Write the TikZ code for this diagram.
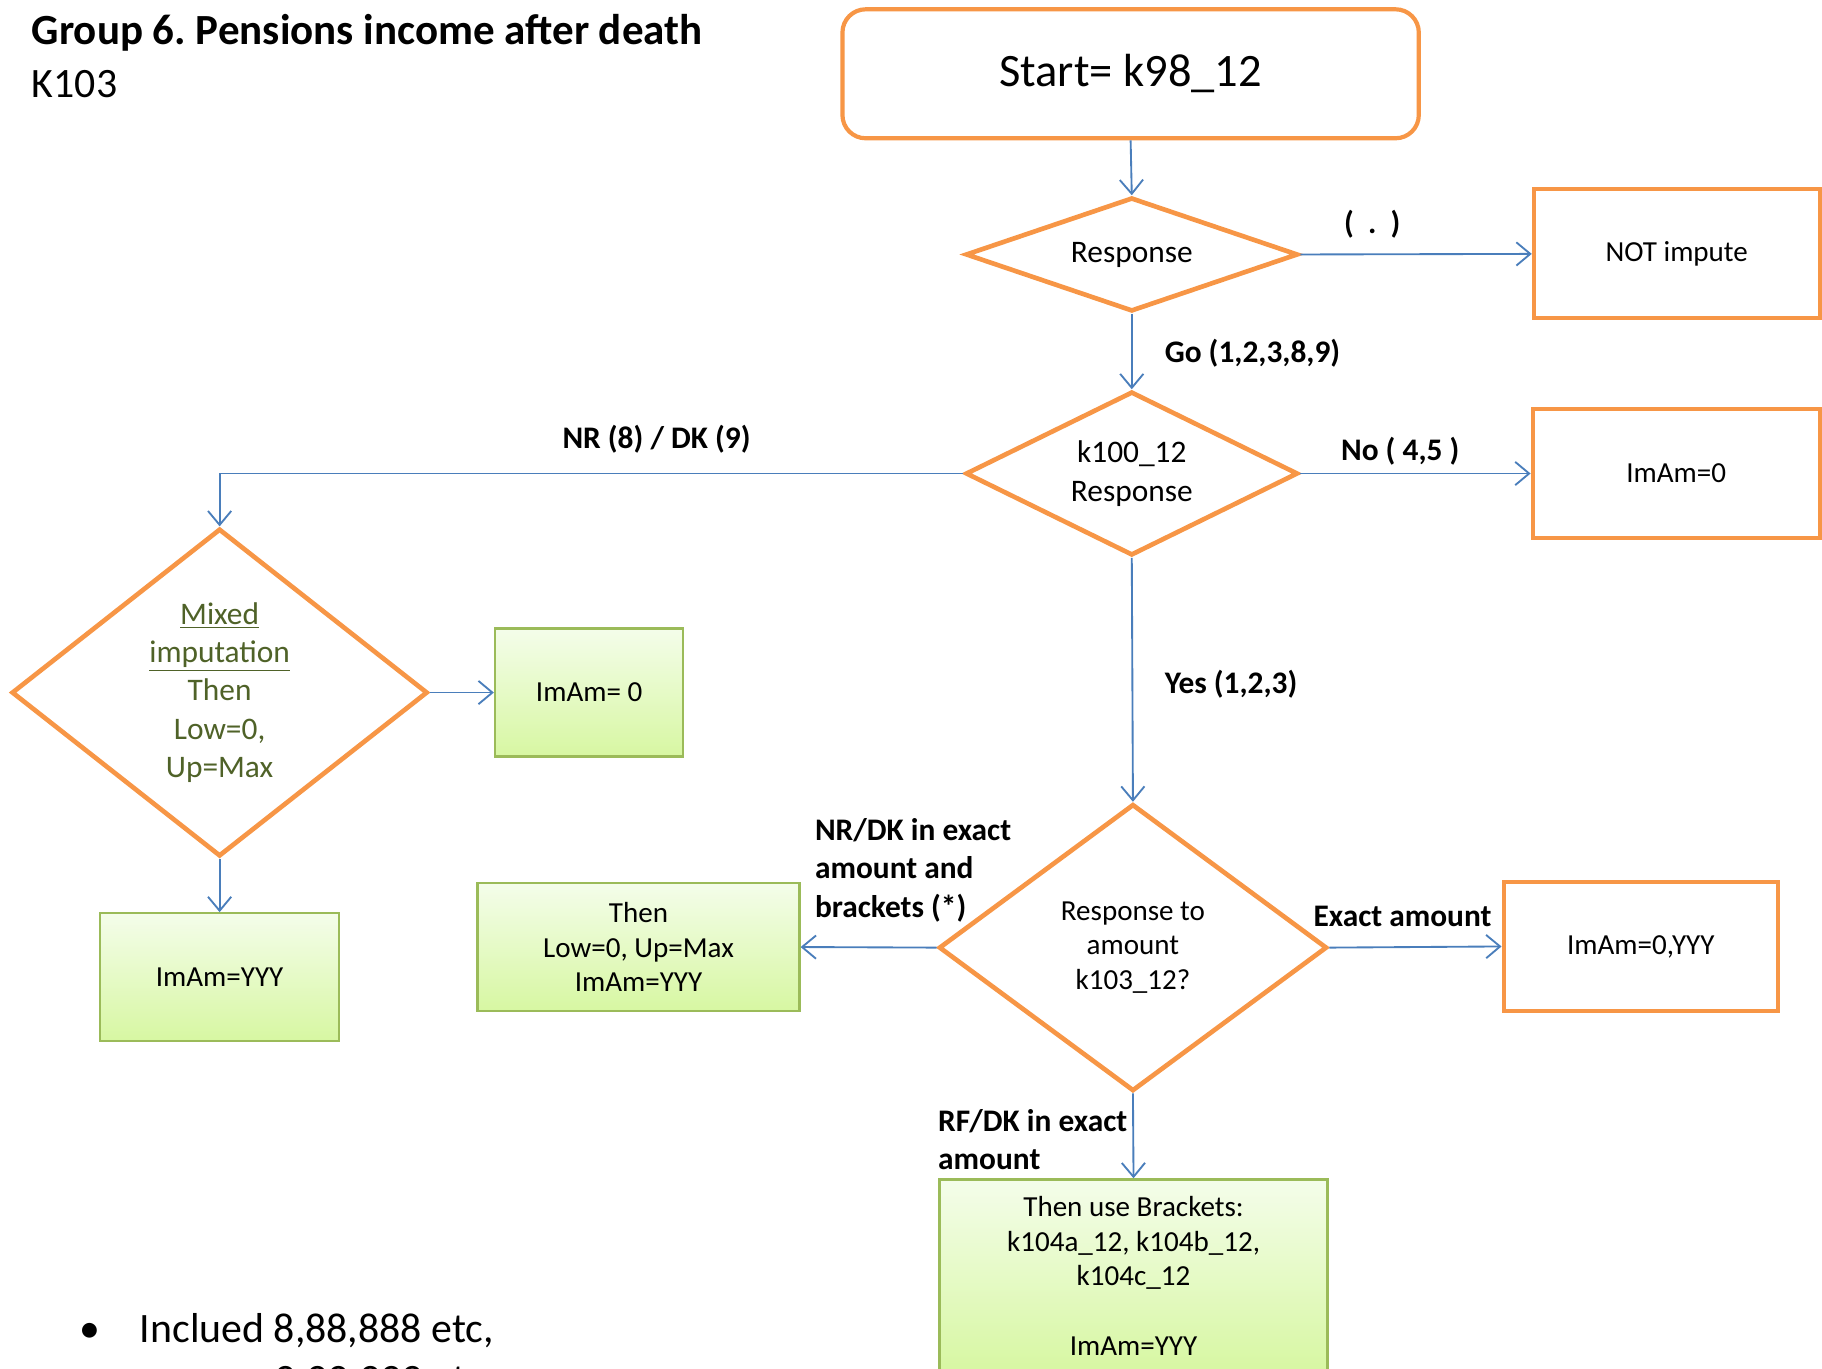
\documentclass[tikz,border=0pt]{standalone}
\usepackage{fontspec}
\setmainfont{Carlito}
\usetikzlibrary{shapes.geometric, arrows.meta, positioning}
\definecolor{pptorange}{HTML}{F79646}
\definecolor{pptblue}{HTML}{4A7EBB}
\definecolor{pptgreen}{HTML}{9BBB59}
\definecolor{olivetext}{HTML}{4F6228}
\definecolor{greentop}{HTML}{F4FDEA}
\definecolor{greenbot}{HTML}{D7F7A2}
\frenchspacing

\begin{document}
\begin{tikzpicture}[x=0.5pt, y=-0.5pt, >={Straight Barb[length=6pt,width=10pt]},
	orangebox/.style={draw=pptorange, line width=1.8pt, fill=white, align=center, font=\fontsize{12.5}{15}\selectfont},
	decision/.style={diamond, draw=pptorange, line width=2pt, fill=white, align=center, inner sep=0pt, font=\fontsize{13.5}{17}\selectfont},
	greenbox/.style={draw=pptgreen, line width=1pt, top color=greentop, bottom color=greenbot, align=center, font=\fontsize{12.5}{15}\selectfont},
	link/.style={->, draw=pptblue, line width=0.8pt},
	lbl/.style={font=\bfseries\fontsize{13.5}{16.5}\selectfont, inner sep=0pt}]
			% Page frame
			\useasboundingbox (0,0) rectangle (1568,1178);
			\clip (0,0) rectangle (1568,1178);
			
			% Title
			\node[anchor=west, inner sep=0pt, font=\bfseries\fontsize{18.5}{22}\selectfont] (title) at (27,28) {Group 6. Pensions income after death};
			\node[anchor=west, inner sep=0pt, font=\fontsize{18}{22}\selectfont] (code) at (27,72) {K103};
			
			% Main column
			\node[orangebox, rounded corners=10pt, minimum width=248pt, minimum height=55.5pt, font=\fontsize{20}{24}\selectfont] (start) at (973,63.5) {Start= k98\_12};
			\node[decision, shape aspect=2.9, minimum width=143pt, minimum height=49pt] (resp) at (974,219) {Response};
			\node[decision, shape aspect=2, minimum width=143pt, minimum height=70.5pt] (k100) at (974,407.5) {k100\_12\\Response};
			\node[decision, shape aspect=1.35, minimum width=167pt, minimum height=123.5pt, font=\fontsize{12.5}{15}\selectfont] (amount) at (975,815.5) {Response to\\amount\\k103\_12?};
			\node[greenbox, minimum width=167pt, minimum height=83pt] (brackets) at (975.5,1098) {Then use Brackets:\\k104a\_12, k104b\_12,\\k104c\_12\\[15pt]ImAm=YYY};
			
			% Right column
			\node[orangebox, minimum width=123pt, minimum height=55.5pt] (notimp) at (1443,218.5) {NOT impute};
			\node[orangebox, minimum width=123.5pt, minimum height=55.5pt] (imamzero) at (1442.5,407.5) {ImAm=0};
			\node[orangebox, minimum width=118pt, minimum height=55.5pt] (exact) at (1412,814.5) {ImAm=0,YYY};
			
			% Left branch
			\node[decision, shape aspect=1.27, minimum width=179pt, minimum height=141pt, text=olivetext, font=\fontsize{13.5}{16.5}\selectfont] (mixed) at (189,596) {\underline{Mixed}\\\underline{imputation}\\Then\\Low=0,\\Up=Max};
			\node[greenbox, minimum width=81pt, minimum height=55pt] (zeroL) at (507,596) {ImAm= 0};
			\node[greenbox, minimum width=103pt, minimum height=55pt] (yyyL) at (189,841) {ImAm=YYY};
			\node[greenbox, minimum width=138.5pt, minimum height=55pt] (thenL) at (549.5,815) {Then\\Low=0, Up=Max\\ImAm=YYY};
			
			% Connectors
			\draw[link] (start.south) -- (resp.north);
			\draw[link] (resp.east) -- (notimp.west);
			\draw[link] (resp.south) -- (k100.north);
			\draw[link] (k100.east) -- (imamzero.west);
			\draw[link] (k100.west) -| (mixed.north);
			\draw[link] (k100.south) -- (amount.north);
			\draw[link] (mixed.east) -- (zeroL.west);
			\draw[link] (mixed.south) -- (yyyL.north);
			\draw[link] (amount.west) -- (thenL.east);
			\draw[link] (amount.east) -- (exact.west);
			\draw[link] (amount.south) -- (brackets.north);
			
			% Branch labels
			\node[lbl] (ldot) at (1181,193) {( \ . \ )};
			\node[lbl, anchor=west] (lgo) at (1002,304) {Go (1,2,3,8,9)};
			\node[lbl] (lnr) at (565,378) {NR (8) / DK (9)};
			\node[lbl] (lno) at (1205,388) {No ( 4,5 )};
			\node[lbl, anchor=west] (lyes) at (1002,589) {Yes (1,2,3)};
			\node[lbl, anchor=west, align=left] (lbrk) at (701,749) {NR/DK in exact\\amount and\\brackets (*)};
			\node[lbl] (lexact) at (1207,789) {Exact amount};
			\node[lbl, anchor=west, align=left] (lrf) at (807,981) {RF/DK in exact\\amount};
			
			% Note at the bottom
			\node[anchor=base west, inner sep=0pt, font=\fontsize{18}{22}\selectfont] (bullet) at (68,1155) {\textbullet};
			\node[anchor=base west, inner sep=0pt, font=\fontsize{18}{22}\selectfont] (incl) at (120,1155) {Inclued 8,88,888 etc,};
			\node[anchor=base west, inner sep=0pt, font=\fontsize{18}{22}\selectfont] (incltwo) at (236,1199) {9,99,999 etc,};
\end{tikzpicture}
\end{document}
